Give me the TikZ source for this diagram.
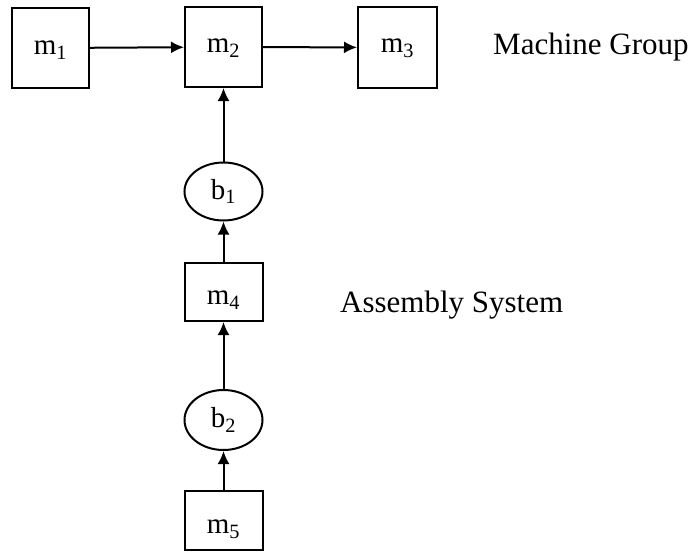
\documentclass[tikz,border=0pt]{standalone}
\usepackage{fontspec}
\setmainfont{Liberation Serif}
\usetikzlibrary{arrows.meta,shapes.geometric}
\begin{document}
\begin{tikzpicture}[x=1pt,y=-1pt,
  box/.style={draw,line width=2pt,minimum width=77pt,minimum height=80pt,inner sep=0pt,font=\fontsize{29}{32}\selectfont},
  buf/.style={draw,ellipse,line width=2pt,minimum width=78pt,minimum height=58pt,inner sep=0pt,font=\fontsize{29}{32}\selectfont},
  conn/.style={line width=2pt,-{Latex[length=13pt,width=12pt]}},
  title/.style={font=\fontsize{31}{35}\selectfont,inner sep=0pt}]
\useasboundingbox (0,0) rectangle (699,552);
\node[box,label={[name=l1,font=\fontsize{29}{32}\selectfont,yshift=-2pt]center:m\textsubscript{1}}] (m1) at (50.5,48) {};
\node[box,label={[name=l2,font=\fontsize{29}{32}\selectfont,yshift=-1pt]center:m\textsubscript{2}}] (m2) at (223.5,47) {};
\node[box,minimum width=79pt,minimum height=81pt,label={[name=l3,font=\fontsize{29}{32}\selectfont,yshift=-1pt]center:m\textsubscript{3}}] (m3) at (397.5,47.5) {};
\node[buf] (b1) at (223.5,191.5) {b\textsubscript{1}};
\node[box,minimum width=78pt,minimum height=58pt,label={[name=l4,font=\fontsize{29}{32}\selectfont,yshift=-8pt]center:m\textsubscript{4}}] (m4) at (223.5,292) {};
\node[buf,minimum height=60pt] (b2) at (223.5,420) {b\textsubscript{2}};
\node[box,minimum width=78pt,minimum height=59pt,label={[name=l5,font=\fontsize{29}{32}\selectfont,yshift=-9pt]center:m\textsubscript{5}}] (m5) at (223.5,520.5) {};
\node[title,anchor=base west] (mg) at (493,54) {Machine Group};
\node[title,anchor=base west] (as) at (340,312) {Assembly System};
\draw[conn] (m1) -- (m2);
\draw[conn] (m2) -- (m3);
\draw[conn] (b1) -- (m2);
\draw[conn] (m4) -- (b1);
\draw[conn] (b2) -- (m4);
\draw[conn] (m5) -- (b2);
\end{tikzpicture}
\end{document}
